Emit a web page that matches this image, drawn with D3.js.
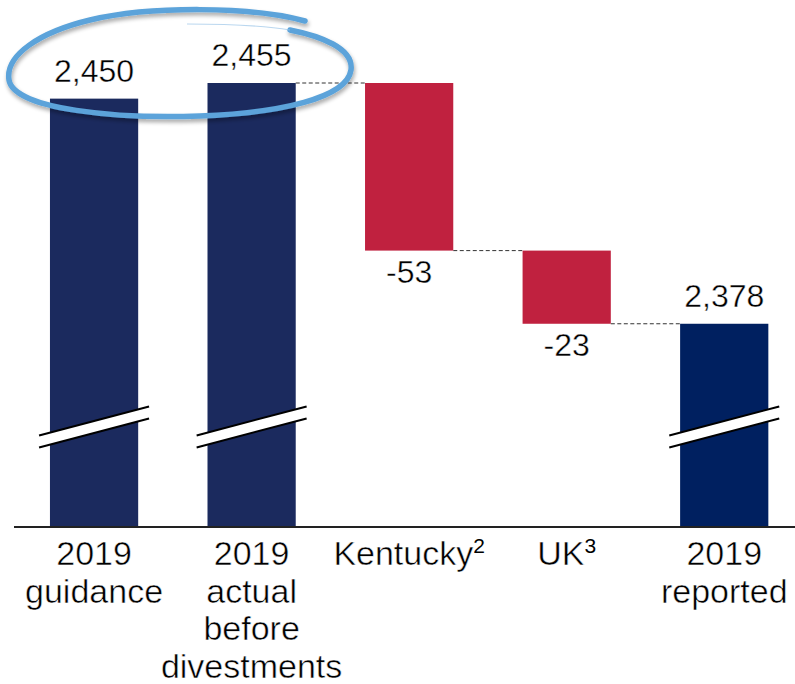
<!DOCTYPE html>
<html><head><meta charset="utf-8">
<script src="https://cdn.jsdelivr.net/npm/d3@7"></script>
<style>html,body{margin:0;padding:0;background:#fff;}svg{display:block;font-family:"Liberation Sans",Arial,sans-serif;}</style>
</head><body>
<svg id="c" width="795" height="684"></svg>
<script>
const categories = [["2019","guidance"],["2019","actual","before","divestments"],["Kentucky|2"],["UK|3"],["2019","reported"]];
const kinds = ["total","total","delta","delta","total"];
const values = [2450, 2455, -53.6, -23.4, 2378];
const valueLabels = ["2,450","2,455","-53","-23","2,378"];
const axisBase = 2313;      // value shown at the baseline (axis broken)
const breakValue = 2345;    // where the axis-break mark sits on the total bars

const svg = d3.select("#c");
const x = d3.scaleBand().domain(d3.range(values.length)).range([15.3, 803]).paddingInner(0.44).paddingOuter(0.22);
const y = d3.scaleLinear().domain([axisBase, 2455]).range([527, 83]);

let running = 0;
const segs = values.map((v,i)=>{
  let lo, hi;
  if (kinds[i]==="total"){ lo = axisBase; hi = v; running = v; }
  else { hi = running; lo = running + v; running = lo; }
  return {i, lo, hi, v, kind:kinds[i], end: kinds[i]==="total"? v : lo};
});

const colors = ["#1b2a5e","#1b2a5e","#c0213f","#c0213f","#002060"];

for (let k=2;k<segs.length;k++){
  const prev = segs[k-1];
  svg.append("line")
    .attr("x1", x(k-1)+x.bandwidth()).attr("x2", x(k))
    .attr("y1", y(prev.end)).attr("y2", y(prev.end))
    .attr("stroke","#333").attr("stroke-width",1).attr("stroke-dasharray","4,2.5");
}

svg.selectAll("rect.bar").data(segs).join("rect").attr("class","bar")
  .attr("x", d=>x(d.i)).attr("width", x.bandwidth())
  .attr("y", d=>y(d.hi)).attr("height", d=>y(d.lo)-y(d.hi))
  .attr("fill", (d,i)=>colors[i]);

segs.filter(d=>d.kind==="total").forEach(d=>{
  const cx = x(d.i)+x.bandwidth()/2, cy = y(breakValue);
  const hw = 55, slope = 29/110, gap = 12;
  const x1 = cx-hw, x2 = cx+hw, ya = cy + hw*slope - gap/2, yb = cy - hw*slope - gap/2;
  const g = svg.append("g");
  g.append("path").attr("d", `M${x1},${ya} L${x2},${yb} L${x2},${yb+gap} L${x1},${ya+gap} Z`).attr("fill","#fff");
  g.append("line").attr("x1",x1).attr("y1",ya).attr("x2",x2).attr("y2",yb).attr("stroke","#000").attr("stroke-width",2);
  g.append("line").attr("x1",x1).attr("y1",ya+gap).attr("x2",x2).attr("y2",yb+gap).attr("stroke","#000").attr("stroke-width",2);
});

svg.append("line").attr("x1",14).attr("x2",795).attr("y1",527).attr("y2",527).attr("stroke","#222").attr("stroke-width",2);

svg.selectAll("text.val").data(segs).join("text").attr("class","val")
  .attr("x", d=>x(d.i)+x.bandwidth()/2)
  .attr("y", d=> d.kind==="total" ? y(d.hi)-17 : y(d.lo)+32)
  .attr("text-anchor","middle").attr("font-size",32).attr("fill","#000")
  .attr("stroke","#fff").attr("stroke-width",0.4)
  .text((d,i)=>valueLabels[i]);

categories.forEach((lines,i)=>{
  const t = svg.append("text").attr("text-anchor","middle").attr("font-size",34).attr("fill","#000")
    .attr("x", x(i)+x.bandwidth()/2).attr("y",565);
  lines.forEach((ln,j)=>{
    const parts = ln.split("|");
    t.append("tspan").attr("x", x(i)+x.bandwidth()/2).attr("dy", j===0?0:37.5)
      .attr("stroke","#fff").attr("stroke-width",0.5).text(parts[0]);
    if (parts[1]) t.append("tspan").attr("font-size",21).attr("dy",-12).text(parts[1]);
  });
});

const defs = svg.append("defs");
const f = defs.append("filter").attr("id","sh").attr("x","-20%").attr("y","-50%").attr("width","140%").attr("height","200%");
f.append("feGaussianBlur").attr("in","SourceAlpha").attr("stdDeviation",2).attr("result","b");
f.append("feOffset").attr("in","b").attr("dx",1).attr("dy",3).attr("result","o");
f.append("feComponentTransfer").attr("in","o").attr("result","o2").append("feFuncA").attr("type","linear").attr("slope",0.35);
const m = f.append("feMerge"); m.append("feMergeNode").attr("in","o2"); m.append("feMergeNode").attr("in","SourceGraphic");
svg.append("path")
  .attr("d","M305,21 C250,6 150,6 90,20 C40,32 5,55 9,80 C14,110 120,119 200,116 C280,113 347,98 351,70 C354,48 320,36 290,30")
  .attr("fill","none").attr("stroke","#5ba3da").attr("stroke-width",5.5).attr("stroke-linecap","round").attr("filter","url(#sh)");
svg.append("path").attr("d","M290,30 C260,25 220,24 187,24").attr("fill","none").attr("stroke","#9cc6e8").attr("stroke-width",1.2).attr("opacity",0.7);
</script>
</body></html>
